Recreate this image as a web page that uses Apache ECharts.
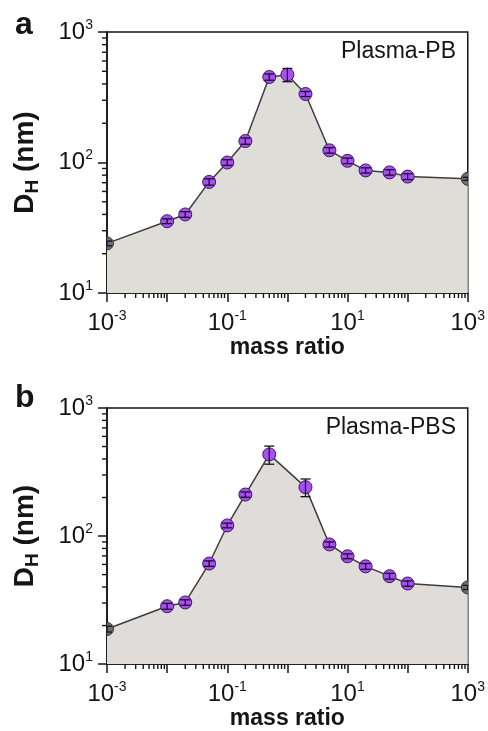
<!DOCTYPE html>
<html>
<head>
<meta charset="utf-8">
<script src="https://cdn.jsdelivr.net/npm/echarts@6/dist/echarts.min.js"></script>
<style>
html, body { margin: 0; padding: 0; background: #fff; }
#main { width: 488px; height: 731px; }
</style>
</head>
<body>
<div id="main"></div>
<script>
// panel a: Plasma-PB
var massA = [0.001, 0.01, 0.02, 0.05, 0.1, 0.2, 0.5, 1, 2, 5, 10, 20, 50, 100, 1000];
var dhA = [24, 35.5, 40, 71, 100, 146, 452, 471, 335, 124, 103, 87, 84, 78, 75];
var errA = [1, 1.5, 2, 4, 5, 8, 25, 55, 15, 6, 5, 4, 4, 4, 2];

// panel b: Plasma-PBS
var massB = [0.001, 0.01, 0.02, 0.05, 0.1, 0.2, 0.5, 2, 5, 10, 20, 50, 100, 1000];
var dhB = [18.8, 28.3, 30.3, 61, 121, 211, 434, 241, 86, 69.5, 58, 48.6, 42.6, 39.7];
var errB = [1, 1.5, 1.5, 3, 5, 10, 70, 38, 4, 3, 3, 2.5, 2, 1.5];

var xDecades = [0.001, 0.01, 0.1, 1, 10, 100];
var yDecades = [10, 100];
var minorSteps = [2, 3, 4, 5, 6, 7, 8, 9];

var FONT = "'Liberation Sans', Arial, sans-serif";
var INK = '#151515';

function minorList(decades) {
  var out = [];
  decades.forEach(function (d) {
    minorSteps.forEach(function (m) { out.push(+(d * m).toPrecision(3)); });
  });
  return out;
}
var xMinor = minorList(xDecades);
var yMinor = minorList(yDecades);

function supLabel(v) {
  var e = Math.round(Math.log10(v));
  return '{b|10}{s|' + e + '}';
}

var grids = [
  { left: 107, top: 32, width: 363, height: 261 },
  { left: 107, top: 408, width: 363, height: 261 }
];

var xAxes = [], yAxes = [], series = [];

function buildPanel(i, mass, dh, err, fill) {
  grids[i].show = true;
  grids[i].borderColor = INK;
  grids[i].borderWidth = 1.5;
  grids[i].backgroundColor = 'transparent';

  xAxes.push({
    gridIndex: i, type: 'log', logBase: 10, min: 0.001, max: 1000,
    name: 'mass ratio', nameLocation: 'middle', nameGap: 38,
    nameTextStyle: { fontFamily: FONT, fontWeight: 'bold', fontSize: 23, color: INK },
    axisLine: { show: true, onZero: false, lineStyle: { color: INK, width: 1.6 } },
    axisTick: { show: true, inside: false, length: 9, lineStyle: { color: INK, width: 1.5 } },
    splitLine: { show: false },
    axisLabel: {
      margin: 16, showMinLabel: true, showMaxLabel: true,
      formatter: function (v) {
        var e = Math.round(Math.log10(v));
        return Math.abs(e) % 2 === 1 ? supLabel(v) : '';
      },
      rich: {
        b: { fontFamily: FONT, fontSize: 24, lineHeight: 28, color: INK },
        s: { fontFamily: FONT, fontSize: 14, verticalAlign: 'top', color: INK }
      }
    }
  });
  yAxes.push({
    gridIndex: i, type: 'log', logBase: 10, min: 10, max: 1000,
    name: '{m|D}{s|H}{m| (nm)}', nameLocation: 'middle', nameGap: 65, nameRotate: 90,
    nameTextStyle: {
      rich: {
        m: { fontFamily: FONT, fontWeight: 'bold', fontSize: 28, lineHeight: 34, color: INK },
        s: { fontFamily: FONT, fontWeight: 'bold', fontSize: 19, verticalAlign: 'bottom', color: INK }
      }
    },
    axisLine: { show: true, onZero: false, lineStyle: { color: INK, width: 1.6 } },
    axisTick: { show: true, inside: false, length: 9, lineStyle: { color: INK, width: 1.5 } },
    splitLine: { show: false },
    axisLabel: {
      margin: 14, showMinLabel: true, showMaxLabel: true,
      formatter: supLabel,
      rich: {
        b: { fontFamily: FONT, fontSize: 24, lineHeight: 28, color: INK },
        s: { fontFamily: FONT, fontSize: 14, verticalAlign: 'top', color: INK }
      }
    }
  });

  var last = mass.length - 1;
  var pts = mass.map(function (m, k) { return [m, dh[k]]; });

  // connecting line with grey area below
  series.push({
    type: 'line', xAxisIndex: i, yAxisIndex: i,
    data: pts, showSymbol: false,
    lineStyle: { color: '#3d3d3d', width: 1.5 },
    areaStyle: { color: fill, opacity: 1, origin: 'start' },
    clip: true, silent: true, z: 3
  });

  // markers, clipped to the plot frame
  series.push({
    type: 'custom', xAxisIndex: i, yAxisIndex: i, silent: true, clip: true, z: 4,
    data: pts,
    renderItem: function (params, api) {
      var p = api.coord([api.value(0), api.value(1)]);
      var edge = (params.dataIndex === 0 || params.dataIndex === last);
      return {
        type: 'circle', shape: { cx: p[0], cy: p[1], r: 6.5 },
        style: edge
          ? { fill: '#6f6f6f', stroke: '#333', lineWidth: 1 }
          : { fill: '#a84ff2', stroke: '#3a1b5c', lineWidth: 1 }
      };
    }
  });

  // error bars
  series.push({
    type: 'custom', xAxisIndex: i, yAxisIndex: i, silent: true, clip: true, z: 5,
    data: mass.map(function (m, k) { return [m, dh[k] - err[k], dh[k] + err[k]]; }),
    encode: { x: 0, y: [1, 2] },
    renderItem: function (params, api) {
      var x = api.value(0);
      var lo = api.coord([x, api.value(1)]);
      var hi = api.coord([x, api.value(2)]);
      var st = { stroke: '#1a0d28', lineWidth: 1.3 };
      return {
        type: 'group', children: [
          { type: 'line', shape: { x1: lo[0], y1: lo[1], x2: hi[0], y2: hi[1] }, style: st },
          { type: 'line', shape: { x1: lo[0] - 5, y1: lo[1], x2: lo[0] + 5, y2: lo[1] }, style: st },
          { type: 'line', shape: { x1: hi[0] - 5, y1: hi[1], x2: hi[0] + 5, y2: hi[1] }, style: st }
        ]
      };
    }
  });

  // minor ticks (log spaced) on x axis
  series.push({
    type: 'custom', xAxisIndex: i, yAxisIndex: i, silent: true, clip: false, z: 6,
    data: xMinor.map(function (v) { return [v, 10]; }),
    renderItem: function (params, api) {
      var p = api.coord([api.value(0), api.value(1)]);
      return { type: 'line', shape: { x1: p[0], y1: p[1], x2: p[0], y2: p[1] + 5 },
        style: { stroke: INK, lineWidth: 1.4 } };
    }
  });
  // minor ticks on y axis
  series.push({
    type: 'custom', xAxisIndex: i, yAxisIndex: i, silent: true, clip: false, z: 6,
    data: yMinor.map(function (v) { return [0.001, v]; }),
    renderItem: function (params, api) {
      var p = api.coord([api.value(0), api.value(1)]);
      return { type: 'line', shape: { x1: p[0], y1: p[1], x2: p[0] - 5, y2: p[1] },
        style: { stroke: INK, lineWidth: 1.4 } };
    }
  });
}

buildPanel(0, massA, dhA, errA, '#dfddd7');
buildPanel(1, massB, dhB, errB, '#e0dcd9');

var chart = echarts.init(document.getElementById('main'), null, { renderer: 'canvas' });
chart.setOption({
  animation: false,
  backgroundColor: '#fff',
  grid: grids,
  xAxis: xAxes,
  yAxis: yAxes,
  series: series,
  graphic: [
    { type: 'text', x: 15, y: 25, style: { text: 'a', font: 'bold 32px ' + FONT, fill: INK, verticalAlign: 'middle' } },
    { type: 'text', x: 15, y: 398, style: { text: 'b', font: 'bold 32px ' + FONT, fill: INK, verticalAlign: 'middle' } },
    { type: 'text', x: 456, y: 52, style: { text: 'Plasma-PB', font: '23px ' + FONT, fill: INK, align: 'right', verticalAlign: 'middle' } },
    { type: 'text', x: 456, y: 428, style: { text: 'Plasma-PBS', font: '23px ' + FONT, fill: INK, align: 'right', verticalAlign: 'middle' } }
  ]
});
</script>
</body>
</html>
